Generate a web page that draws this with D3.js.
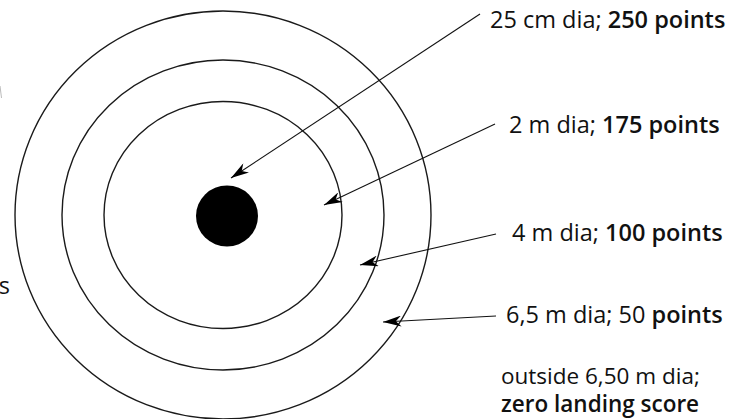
<!DOCTYPE html>
<html><head><meta charset="utf-8">
<script src="https://cdn.jsdelivr.net/npm/d3@7"></script>
<style>
html,body{margin:0;padding:0;background:#fff;}
svg{display:block;}
text{font-family:"Open Sans","Noto Sans",sans-serif;fill:#111;}
</style></head>
<body><svg id="c" width="756" height="419"></svg>
<script>
// ---- data ----
const ringDiameters = [0.25, 2, 4, 6.5];          // metres
const ringPoints = [250, 175, 100, 50];
const labelSizes = ["25 cm dia; ", "2 m dia; ", "4 m dia; ", "6,5 m dia; "];
const labelBold = ["250 points", "175 points", "100 points", "points"];
const labelPlain2 = ["", "", "", "50 "];
const outsideLabel = ["outside 6,50 m dia;", "zero landing score"];

// ---- layout ----
const W = 756, H = 419;
const cx = 223, cy = 215;
const FS = 23.5;
const svg = d3.select("#c");
svg.append("rect").attr("width", W).attr("height", H).attr("fill", "#fff");

// ring radius scale (diagram not to scale; piecewise)
const rx = d3.scaleLinear().domain(ringDiameters).range([31, 119, 161, 208]);
const ry = d3.scaleLinear().domain(ringDiameters).range([31, 113.5, 155, 204]);

const defs = svg.append("defs");
defs.append("marker").attr("id", "ah")
  .attr("viewBox", "0 0 20 12").attr("refX", 20).attr("refY", 6)
  .attr("markerWidth", 19).attr("markerHeight", 11).attr("markerUnits", "userSpaceOnUse")
  .attr("orient", "auto")
  .append("path").attr("d", "M20,6 L0,0 L6,6 L0,12 Z").attr("fill", "#000");

// rings
svg.selectAll("ellipse.ring").data(ringDiameters.slice(1)).join("ellipse")
  .attr("class", "ring")
  .attr("cx", cx).attr("cy", cy)
  .attr("rx", d => rx(d)).attr("ry", d => ry(d))
  .attr("fill", "none").attr("stroke", "#1a1a1a").attr("stroke-width", 1.4);

// bullseye
svg.append("ellipse").attr("cx", cx + 4).attr("cy", cy + 1)
  .attr("rx", rx(ringDiameters[0])).attr("ry", ry(ringDiameters[0]) - 0.5)
  .attr("fill", "#000");

// labels and arrows
const labelX = [490, 509, 512, 506];
const labelY = [28, 133, 241, 323];
const lineStart = [[480, 14], [495, 124], [496, 234], [496, 316]];
const tips = [[231, 178], [324, 205], [360, 265], [383, 322]];

ringDiameters.forEach((d, i) => {
  const t = svg.append("text").attr("x", labelX[i]).attr("y", labelY[i])
    .attr("font-size", FS);
  t.append("tspan").text(labelSizes[i] + labelPlain2[i]);
  t.append("tspan").attr("font-weight", 600).text(labelBold[i]);
  svg.append("line")
    .attr("x1", lineStart[i][0]).attr("y1", lineStart[i][1])
    .attr("x2", tips[i][0]).attr("y2", tips[i][1])
    .attr("stroke", "#111").attr("stroke-width", 1.1)
    .attr("marker-end", "url(#ah)");
});

svg.append("text").attr("x", 501).attr("y", 384).attr("font-size", 22.5).text(outsideLabel[0]);
svg.append("text").attr("x", 501).attr("y", 412).attr("font-size", 22.5)
  .attr("font-weight", 600).text(outsideLabel[1]);

// cut-off fragments at the left edge
svg.append("text").attr("x", 10).attr("y", 294).attr("font-size", FS)
  .attr("text-anchor", "end").text("s");
svg.append("line").attr("x1", 0).attr("y1", 86).attr("x2", 1.5).attr("y2", 98)
  .attr("stroke", "#bbb").attr("stroke-width", 1);
</script></body></html>
